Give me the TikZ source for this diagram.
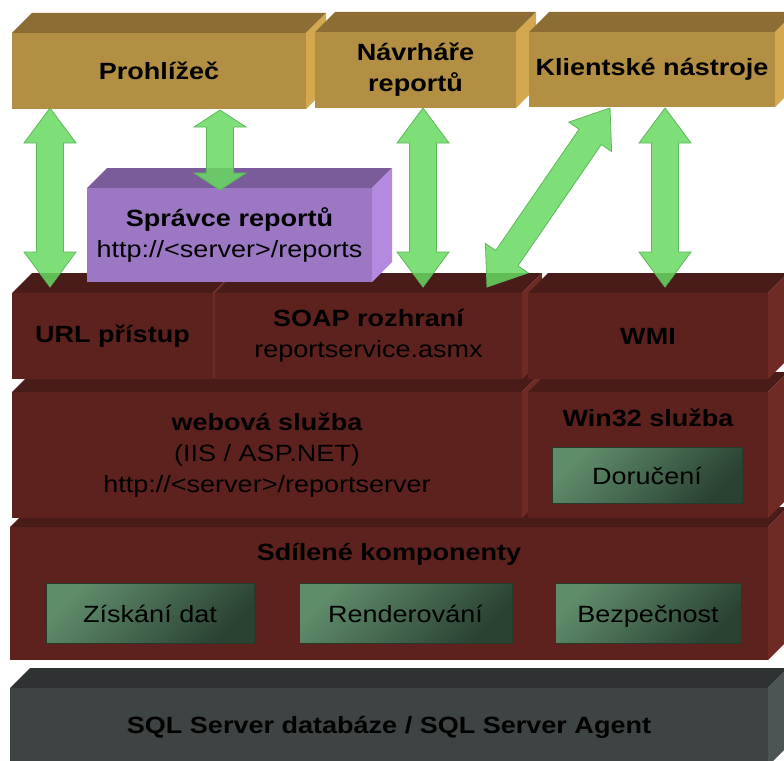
\documentclass[tikz,border=0pt]{standalone}
\usepackage{fontspec}
\setmainfont{Liberation Sans}[FakeStretch=1.15]
\usetikzlibrary{calc}
\definecolor{goldfront}{HTML}{B28F42}
\definecolor{goldtop}{HTML}{8C6E34}
\definecolor{goldside}{HTML}{D4A84E}
\definecolor{marfront}{HTML}{5E221E}
\definecolor{martop}{HTML}{4A1C19}
\definecolor{marside}{HTML}{702A25}
\definecolor{purfront}{HTML}{9C78C4}
\definecolor{purtop}{HTML}{7A5C9A}
\definecolor{purside}{HTML}{B48AE0}
\definecolor{gryfront}{HTML}{3E4444}
\definecolor{grytop}{HTML}{2E3232}
\definecolor{gryside}{HTML}{4C5454}
\definecolor{grnlight}{HTML}{5F8C6A}
\definecolor{grndark}{HTML}{2A4232}
\definecolor{grnline}{HTML}{263A2C}
\definecolor{arrowgreen}{HTML}{68DA62}
\definecolor{arrowline}{HTML}{5CB858}
\newcommand{\boxcube}[7]{%
  \fill[#6top] (#2,#3) -- ({#2+20},{#3-20}) -- ({#4+20},{#3-20}) -- (#4,#3) -- cycle;
  \fill[#6side] (#4,#3) -- ({#4+20},{#3-20}) -- ({#4+20},{#5-20}) -- (#4,#5) -- cycle;
  \node[face, fill=#6front, minimum width={(#4-#2)*1pt}, minimum height={(#5-#3)*1pt}] (#1) at (#2,#3) {#7};
}
\newcommand{\ibox}[6]{%
  \node[inbox, minimum width={(#4-#2)*1pt}, minimum height={(#5-#3)*1pt}] (#1) at (#2,#3) {#6};
}
\newcommand{\garrow}[3]{%
  \coordinate (ga) at ($(#1)!#3!(#2)$);
  \coordinate (gb) at ($(#2)!#3!(#1)$);
  \draw[greenarrow] (#1) -- ($(ga)!26pt!90:(#2)$) -- ($(ga)!13.5pt!90:(#2)$)
    -- ($(gb)!13.5pt!90:(#2)$) -- ($(gb)!26pt!90:(#2)$) -- (#2)
    -- ($(gb)!26pt!-90:(#2)$) -- ($(gb)!13.5pt!-90:(#2)$)
    -- ($(ga)!13.5pt!-90:(#2)$) -- ($(ga)!26pt!-90:(#2)$) -- cycle;
}
\begin{document}
\begin{tikzpicture}[x=1pt,y=-1pt,
  face/.style={rectangle, inner sep=0pt, outer sep=0pt, anchor=north west, align=center,
    text=black, font=\fontsize{23.5}{31}\selectfont},
  inbox/.style={rectangle, inner sep=0pt, outer sep=0pt, anchor=north west, align=center,
    draw=grnline, line width=0.6pt, top color=grnlight, bottom color=grndark, shading angle=45,
    text=black, text height=20pt, text depth=2pt, font=\fontsize{23.5}{31}\selectfont},
  lbl/.style={inner sep=0pt, text=black, font=\fontsize{23.5}{31}\selectfont\bfseries},
  greenarrow/.style={fill=arrowgreen, fill opacity=0.85, draw=arrowline, line width=0.8pt, line join=miter}
]
\useasboundingbox (0,0) rectangle (784,760);
\fill[white] (0,0) rectangle (784,760);
\clip (0,0) rectangle (784,760);

% bottom layer
\boxcube{sql}{10}{688}{768}{766}{gry}{\bfseries SQL Server databáze / SQL Server Agent}
% shared components
\boxcube{shared}{10}{527}{768}{660}{mar}{}
\node[lbl] (sharedt) at (389,554) {Sdílené komponenty};
\ibox{data}{46}{583}{254}{643}{Získání dat}
\ibox{render}{299}{583}{512}{643}{Renderování}
\ibox{secur}{555}{583}{741}{643}{Bezpečnost}
% services layer
\boxcube{web}{12}{392}{522}{518}{mar}{\bfseries webová služba\\(IIS / ASP.NET)\\http://<server>/reportserver}
\boxcube{win}{528}{392}{768}{518}{mar}{}
\node[lbl] (wint) at (648,418) {Win32 služba};
\ibox{deliv}{552}{447}{742}{503}{Doručení}
% access layer
\boxcube{url}{12}{293}{213}{379}{mar}{\bfseries URL přístup}
\boxcube{soap}{215}{293}{522}{379}{mar}{\bfseries SOAP rozhraní\\reportservice.asmx}
\boxcube{wmi}{528}{293}{768}{379}{mar}{\bfseries WMI}
% report manager
\boxcube{manager}{87}{188}{372}{282}{pur}{\bfseries Správce reportů\\http://<server>/reports}
% clients
\boxcube{browser}{12}{33}{306}{109}{gold}{\bfseries Prohlížeč}
\boxcube{designer}{315}{32}{516}{108}{gold}{\bfseries Návrháře\\\bfseries reportů}
\boxcube{tools}{529}{32}{775}{107}{gold}{\bfseries Klientské nástroje}

% arrow end points
\coordinate (a1s) at (50,108);  \coordinate (a1e) at (50,287);
\coordinate (a2s) at (220,110); \coordinate (a2e) at (220,190);
\coordinate (a3s) at (423,108); \coordinate (a3e) at (423,287);
\coordinate (a4s) at (610,108); \coordinate (a4e) at (487,287);
\coordinate (a5s) at (665,108); \coordinate (a5e) at (665,287);
\garrow{a1s}{a1e}{35pt}
\garrow{a2s}{a2e}{17pt}
\garrow{a3s}{a3e}{35pt}
\garrow{a4s}{a4e}{35pt}
\garrow{a5s}{a5e}{35pt}
\end{tikzpicture}
\end{document}
